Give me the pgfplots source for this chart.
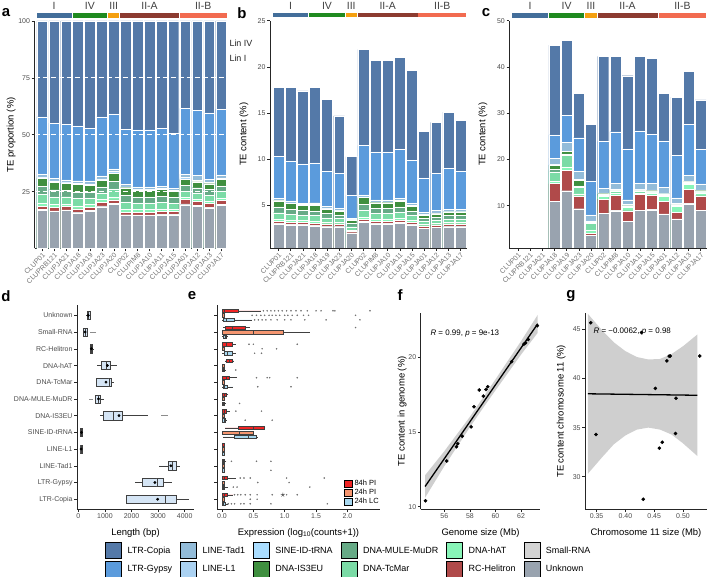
\documentclass[border=0pt]{standalone}
\usepackage{fontspec}
\setmainfont{Liberation Sans}
\usepackage{pgfplots}
\pgfplotsset{compat=1.18}
\usepackage{pgfplotstable}
\usepgfplotslibrary{statistics}

\definecolor{cCopia}{HTML}{5479A8}
\definecolor{cGypsy}{HTML}{5B9BDC}
\definecolor{cTad}{HTML}{93BCD9}
\definecolor{cLone}{HTML}{ABD2F2}
\definecolor{cSINE}{HTML}{AADDFF}
\definecolor{cIS}{HTML}{3F8F3F}
\definecolor{cMULE}{HTML}{66AA86}
\definecolor{cTc}{HTML}{7BDBA6}
\definecolor{chAT}{HTML}{88F5B8}
\definecolor{cHel}{HTML}{B04A4A}
\definecolor{cSR}{HTML}{D3D3D3}
\definecolor{cUnk}{HTML}{99A3AF}
\definecolor{gI}{HTML}{436E9A}
\definecolor{gIV}{HTML}{1F8A1F}
\definecolor{gIII}{HTML}{F5A00F}
\definecolor{gIIA}{HTML}{8C3B30}
\definecolor{gIIB}{HTML}{F26B50}
\definecolor{eR}{HTML}{F02424}
\definecolor{eS}{HTML}{F59670}
\definecolor{eB}{HTML}{A8D8F0}
\definecolor{dboxc}{HTML}{D5E5F5}

\pgfplotsset{
 gg/.style={scale only axis, anchor=south west, clip mode=individual,
  axis x line*=bottom, axis y line*=left,
  axis line style={draw=black!85, line width=0.7bp},
  tick style={draw=black!85, line width=0.5bp},
  tick align=outside, major tick length=2.8bp,
  tick label style={font=\fontsize{7}{8}\selectfont, text=black!70, inner sep=1.5bp},
  label style={font=\fontsize{9.5}{11}\selectfont},
  /pgf/number format/assume math mode=true,
  /pgf/number format/1000 sep={}},
 bs/.style={ybar, bar width=0.9, bar shift=0pt, draw=white, line width=0.35bp, forget plot},
 barax/.style={gg, xmin=-0.7, xmax=15.5, xtick={0,...,15},
  xticklabels={CLUP01,CLUPRB121,CLUPJA21,CLUPJA18,CLUPJA19,CLUPJA23,CLUPJA20,CLUP02,CLUPIM8,CLUPJA10,CLUPJA11,CLUPJA15,CLUPJA01,CLUPJA12,CLUPJA13,CLUPJA17},
  xticklabel style={rotate=45, anchor=north east, font=\fontsize{7}{7}\selectfont, text=black!55, inner sep=0.8bp},
  ylabel style={anchor=south}},
}

\newcommand{\stackbars}[1]{%
\addplot[bs, fill=cCopia] table[x=x,y=T]{#1};
\addplot[bs, fill=cGypsy] table[x=x,y=G]{#1};
\addplot[bs, fill=cTad] table[x=x,y=Td]{#1};
\addplot[bs, fill=cLone] table[x=x,y=L1]{#1};
\addplot[bs, fill=cSINE] table[x=x,y=SINE]{#1};
\addplot[bs, fill=cIS] table[x=x,y=IS]{#1};
\addplot[bs, fill=cMULE] table[x=x,y=MU]{#1};
\addplot[bs, fill=cTc] table[x=x,y=Tc]{#1};
\addplot[bs, fill=chAT] table[x=x,y=hAT]{#1};
\addplot[bs, fill=cHel] table[x=x,y=H]{#1};
\addplot[bs, fill=cSR] table[x=x,y=SR]{#1};
\addplot[bs, fill=cUnk] table[x=x,y=U]{#1};
}
\newcommand{\groupstrip}[3]{%
\fill[gI] (axis cs:-0.46,#1) rectangle (axis cs:2.46,#2);
\fill[gIV] (axis cs:2.54,#1) rectangle (axis cs:5.46,#2);
\fill[gIII] (axis cs:5.54,#1) rectangle (axis cs:6.46,#2);
\fill[gIIA] (axis cs:6.54,#1) rectangle (axis cs:11.46,#2);
\fill[gIIB] (axis cs:11.54,#1) rectangle (axis cs:15.46,#2);
\node[font=\fontsize{10.5}{11}\selectfont, text=black!75] at (axis cs:1,#3) {I};
\node[font=\fontsize{10.5}{11}\selectfont, text=black!75] at (axis cs:4,#3) {IV};
\node[font=\fontsize{10.5}{11}\selectfont, text=black!75] at (axis cs:6,#3) {III};
\node[font=\fontsize{10.5}{11}\selectfont, text=black!75] at (axis cs:9,#3) {II-A};
\node[font=\fontsize{10.5}{11}\selectfont, text=black!75] at (axis cs:13.5,#3) {II-B};
}
\newcommand{\dbx}[6]{\addplot[forget plot, boxplot prepared={draw position=#1, lower whisker=#2, lower quartile=#3, median=#4, upper quartile=#5, upper whisker=#6}, draw=black!75, fill=dboxc, line width=0.5bp] coordinates {};}
\newcommand{\ebx}[7]{\addplot[forget plot, boxplot prepared={draw position=#2, lower whisker=#3, lower quartile=#4, median=#5, upper quartile=#6, upper whisker=#7}, draw=black!75, fill=#1, line width=0.4bp] coordinates {};}

\begin{document}
\pgfplotstableread{
x T G Td L1 SINE IS MU Tc hAT H SR U
0 100 57.87 32.58 31.46 31.07 30.90 27.19 23.71 20.00 18.54 17.13 16.85
1 100 55.06 30.90 29.78 29.38 29.21 25.84 22.70 19.33 17.98 16.57 16.29
2 100 54.60 30.17 29.31 28.91 28.74 25.63 22.76 19.66 18.39 16.95 16.67
3 100 53.93 29.78 28.65 28.26 28.09 24.89 21.91 18.71 17.42 16.01 15.73
4 100 52.73 29.70 28.48 28.06 27.88 24.97 22.24 19.33 18.18 16.67 16.36
5 100 57.82 31.97 30.61 30.14 29.93 27.07 24.42 21.56 20.41 18.71 18.37
6 100 59.22 34.95 33.98 33.30 33.01 29.51 26.21 22.72 21.36 19.90 19.42
7 100 52.51 28.08 27.17 26.85 26.71 23.52 20.50 17.26 15.98 14.84 14.61
8 100 52.17 27.05 26.09 25.75 25.60 22.71 20.00 17.10 15.94 14.73 14.49
9 100 52.17 27.05 26.09 25.75 25.60 22.71 20.00 17.10 15.94 14.73 14.49
10 100 52.86 27.38 26.43 26.10 25.95 23.05 20.29 17.38 16.19 15.00 14.76
11 100 50.51 26.53 25.51 25.15 25.00 22.40 19.95 17.35 16.33 15.05 14.80
12 100 61.54 32.69 31.15 30.62 30.38 27.77 25.23 22.62 21.54 19.62 19.23
13 100 60.71 32.14 30.00 29.50 29.29 26.71 24.29 21.71 20.71 18.93 18.57
14 100 59.60 30.46 29.14 28.68 28.48 25.90 23.51 20.93 19.87 18.21 17.88
15 100 61.27 32.39 30.99 30.49 30.28 27.54 25.00 22.25 21.13 19.37 19.01
}\tA
\pgfplotstableread{
x T G Td L1 SINE IS MU Tc hAT H SR U
0 17.8 10.3 5.8 5.6 5.53 5.5 4.84 4.22 3.56 3.3 3.05 3.0
1 17.8 9.8 5.5 5.3 5.23 5.2 4.6 4.04 3.44 3.2 2.95 2.9
2 17.4 9.5 5.25 5.1 5.03 5.0 4.46 3.96 3.42 3.2 2.95 2.9
3 17.8 9.6 5.3 5.1 5.03 5.0 4.43 3.9 3.33 3.1 2.85 2.8
4 16.5 8.7 4.9 4.7 4.63 4.6 4.12 3.67 3.19 3.0 2.75 2.7
5 14.7 8.5 4.7 4.5 4.43 4.4 3.98 3.59 3.17 3.0 2.75 2.7
6 10.3 6.1 3.6 3.5 3.43 3.4 3.04 2.7 2.34 2.2 2.05 2.0
7 21.9 11.5 6.15 5.95 5.88 5.85 5.15 4.49 3.78 3.5 3.25 3.2
8 20.7 10.8 5.6 5.4 5.33 5.3 4.7 4.14 3.54 3.3 3.05 3.0
9 20.7 10.8 5.6 5.4 5.33 5.3 4.7 4.14 3.54 3.3 3.05 3.0
10 21.0 11.1 5.75 5.55 5.48 5.45 4.84 4.26 3.65 3.4 3.15 3.1
11 19.6 9.9 5.2 5.0 4.93 4.9 4.39 3.91 3.4 3.2 2.95 2.9
12 13.0 8.0 4.25 4.05 3.98 3.95 3.61 3.28 2.94 2.8 2.55 2.5
13 14.0 8.5 4.5 4.2 4.13 4.1 3.74 3.4 3.04 2.9 2.65 2.6
14 15.1 9.0 4.6 4.4 4.33 4.3 3.91 3.55 3.16 3.0 2.75 2.7
15 14.2 8.7 4.6 4.4 4.33 4.3 3.91 3.55 3.16 3.0 2.75 2.7
}\tB
\pgfplotstableread{
x T G Td L1 SINE IS MU Tc hAT H SR U
3 44.7 25.3 20.3 18.95 18.85 18.8 17.8 17.3 15.3 14.8 10.95 10.9
4 45.8 29.6 23.7 21.85 21.75 21.7 21.2 20.9 18.4 17.7 13.25 13.2
5 34.3 24.7 17.4 15.65 15.55 15.5 14.3 14.0 12.6 12.1 9.35 9.3
6 27.6 15.2 8.0 6.7 6.6 6.55 6.4 6.2 4.8 4.1 3.65 3.6
7 42.3 23.9 13.8 12.75 12.65 12.6 12.45 12.3 12.0 11.4 8.35 8.3
8 42.3 26.0 14.9 13.65 13.55 13.5 13.35 13.2 12.8 12.2 8.95 8.9
9 38.1 22.3 11.3 10.25 10.15 10.1 10.0 9.9 9.6 8.9 6.65 6.6
10 42.3 26.2 14.9 13.5 13.4 13.35 13.2 13.1 12.8 12.4 9.05 9.0
11 41.8 25.4 14.9 13.4 13.3 13.25 13.1 13.0 12.8 12.2 9.15 9.1
12 34.3 24.0 14.0 12.7 12.6 12.55 12.4 12.3 12.0 10.9 8.25 8.2
13 33.5 20.9 11.7 10.45 10.35 10.3 10.2 10.1 9.9 8.6 7.15 7.1
14 39.0 27.6 16.5 15.3 15.2 15.15 15.0 14.9 14.6 13.6 10.45 10.4
15 32.9 22.2 14.7 13.4 13.3 13.25 13.1 13.0 12.8 12.1 9.05 9.0
}\tC
\begin{tikzpicture}[x=1bp,y=1bp]
\useasboundingbox (0,0) rectangle (709,577);

% ---------- a ----------
\begin{axis}[barax, at={(34.5bp,328.5bp)}, width=192.5bp, height=227.5bp,
  xmin=-0.65, ymin=0, ymax=100, ytick={25,50,75,100},
  ylabel={TE proportion (\%)}, ylabel style={at={(axis description cs:-0.08,0.5)}}]
\stackbars{\tA}
\addplot[forget plot, white, dash pattern=on 5bp off 3bp, line width=0.9bp] coordinates {(-0.65,25) (15.5,25)};
\addplot[forget plot, white, dash pattern=on 5bp off 3bp, line width=0.9bp] coordinates {(-0.65,50) (15.5,50)};
\addplot[forget plot, white, dash pattern=on 5bp off 3bp, line width=0.9bp] coordinates {(-0.65,75) (15.5,75)};
\groupstrip{101.3}{103.4}{106.6}
\end{axis}

% ---------- b ----------
\begin{axis}[barax, at={(270bp,329bp)}, width=196.5bp, height=227.3bp,
  ymin=0.4, ymax=25, ytick={5,10,15,20,25},
  ylabel={TE content (\%)}, ylabel style={at={(axis description cs:-0.092,0.5)}}]
\stackbars{\tB}
\groupstrip{25.37}{25.86}{26.64}
\end{axis}

% ---------- c ----------
\begin{axis}[barax, at={(509.3bp,329bp)}, width=197.5bp, height=227.3bp,
  ymin=0.86, ymax=50, ytick={10,20,30,40,50},
  ylabel={TE content (\%)}, ylabel style={at={(axis description cs:-0.093,0.5)}}]
\stackbars{\tC}
\groupstrip{50.58}{51.73}{53.3}
\end{axis}

\node[anchor=west, font=\fontsize{9}{10}\selectfont, text=black!85] at (226,534) {Lin IV};
\node[anchor=west, font=\fontsize{9}{10}\selectfont, text=black!85] at (226,519) {Lin I};

% ---------- d ----------
\begin{axis}[gg, at={(77bp,67.7bp)}, width=117bp, height=204bp,
  xmin=-50, xmax=4350, ymin=0.4, ymax=12.6,
  xtick={0,1000,2000,3000,4000}, ytick={1,...,12},
  yticklabels={LTR-Copia,LTR-Gypsy,LINE-Tad1,LINE-L1,SINE-ID-tRNA,DNA-IS3EU,DNA-MULE-MuDR,DNA-TcMar,DNA-hAT,RC-Helitron,Small-RNA,Unknown},
  boxplot/draw direction=x, boxplot/box extend=0.5, boxplot/whisker extend=0,
  xlabel={Length (bp)}, xlabel style={at={(axis description cs:0.5,-0.077)}, anchor=north},
  legend columns=6, legend cell align=left,
  legend image code/.code={\fill[#1] (0bp,-8bp) rectangle (16bp,8bp); \path (22bp,0bp);},
  legend style={at={(0.239,-0.160)}, anchor=north west, draw=none, fill=none, inner sep=0pt,
    font=\fontsize{9}{10}\selectfont, row sep=2bp,
    nodes={inner sep=0pt, text depth=0pt},
    /tikz/every even column/.append style={column sep=8bp}}]
\dbx{12}{300}{330}{380}{440}{460}
\dbx{11}{170}{200}{260}{320}{340}
\dbx{10}{430}{440}{490}{540}{550}
\dbx{9}{700}{870}{1050}{1200}{1450}
\dbx{8}{680}{680}{1150}{1240}{1350}
\dbx{7}{610}{650}{750}{840}{950}
\dbx{6}{800}{920}{1300}{1640}{2620}
\dbx{5}{70}{80}{115}{150}{160}
\dbx{4}{60}{70}{100}{140}{150}
\dbx{3}{3050}{3380}{3520}{3680}{3820}
\dbx{2}{2120}{2400}{2950}{3180}{3520}
\dbx{1}{1820}{1820}{3280}{3680}{4180}
\addplot[forget plot, only marks, mark=*, mark size=1.2bp, black] coordinates {(375,12) (255,11) (490,10) (1090,9) (1040,8) (760,7) (1530,6) (120,5) (105,4) (3480,3) (2880,2) (2980,1)};
\addplot[forget plot, only marks, mark=-, mark size=2bp, black!45] coordinates {(500,11) (590,11) (470,7) (3200,6) (3280,6)};
\addlegendimage{fill=cCopia}\addlegendentry{LTR-Copia}
\addlegendimage{fill=cTad}\addlegendentry{LINE-Tad1}
\addlegendimage{fill=cSINE}\addlegendentry{SINE-ID-tRNA}
\addlegendimage{fill=cMULE}\addlegendentry{DNA-MULE-MuDR}
\addlegendimage{fill=chAT}\addlegendentry{DNA-hAT}
\addlegendimage{fill=cSR}\addlegendentry{Small-RNA}
\addlegendimage{fill=cGypsy}\addlegendentry{LTR-Gypsy}
\addlegendimage{fill=cLone}\addlegendentry{LINE-L1}
\addlegendimage{fill=cIS}\addlegendentry{DNA-IS3EU}
\addlegendimage{fill=cTc}\addlegendentry{DNA-TcMar}
\addlegendimage{fill=cHel}\addlegendentry{RC-Helitron}
\addlegendimage{fill=cUnk}\addlegendentry{Unknown}
\end{axis}

% ---------- e ----------
\begin{axis}[gg, at={(217bp,67.7bp)}, width=163bp, height=204bp,
  xmin=-0.08, xmax=2.52, ymin=0.4, ymax=12.6,
  xtick={0,0.5,1,1.5,2}, ytick={1,...,12}, yticklabels={},
  xticklabel style={/pgf/number format/.cd, fixed, fixed zerofill, precision=1},
  boxplot/draw direction=x, boxplot/box extend=0.2, boxplot/whisker extend=0,
  xlabel={Expression (log\textsubscript{10}(counts+1))}, xlabel style={at={(axis description cs:0.5,-0.077)}, anchor=north},
  legend cell align=left,
  legend image code/.code={\fill[#1] (0bp,-3.5bp) rectangle (7.5bp,3.5bp); \path (10bp,0bp);},
  legend style={at={(0.779,0.146)}, anchor=north west, draw=none, fill=none, inner sep=0pt,
    font=\fontsize{7.5}{8}\selectfont, row sep=1.5bp, nodes={inner sep=0pt}}]
\ebx{eR}{12.27}{0}{0}{0.04}{0.26}{0.62}
\ebx{eS}{12}{0}{0}{0.01}{0.03}{0.04}
\ebx{eB}{11.73}{0}{0.02}{0.06}{0.2}{0.48}
\ebx{eR}{11.27}{0.02}{0.05}{0.17}{0.37}{0.44}
\ebx{eS}{11}{0}{0}{0.5}{0.97}{1.4}
\ebx{eB}{10.73}{0}{0.02}{0.05}{0.07}{0.1}
\ebx{eR}{10.27}{0}{0}{0.06}{0.17}{0.22}
\ebx{eS}{10}{0}{0}{0.01}{0.03}{0.04}
\ebx{eB}{9.73}{0}{0.04}{0.08}{0.17}{0.22}
\ebx{eR}{9.27}{0.05}{0.06}{0.12}{0.17}{0.19}
\ebx{eS}{9}{0}{0}{0.01}{0.03}{0.04}
\ebx{eB}{8.73}{0}{0.01}{0.02}{0.04}{0.06}
\ebx{eR}{8.27}{0}{0.01}{0.07}{0.12}{0.24}
\ebx{eS}{8}{0}{0}{0.01}{0.03}{0.04}
\ebx{eB}{7.73}{0}{0.02}{0.04}{0.08}{0.18}
\ebx{eR}{7.27}{0}{0}{0.03}{0.06}{0.1}
\ebx{eS}{7}{0}{0}{0.01}{0.03}{0.04}
\ebx{eB}{6.73}{0}{0.01}{0.02}{0.04}{0.07}
\ebx{eR}{6.27}{0}{0}{0.03}{0.06}{0.12}
\ebx{eS}{6}{0}{0}{0.01}{0.03}{0.04}
\ebx{eB}{5.73}{0}{0.01}{0.03}{0.05}{0.08}
\ebx{eR}{5.27}{0.05}{0.26}{0.5}{0.67}{0.69}
\ebx{eS}{5}{0}{0}{0.27}{0.5}{0.5}
\ebx{eB}{4.73}{0.01}{0.2}{0.42}{0.55}{0.56}
\ebx{eR}{4.27}{0}{0}{0.01}{0.03}{0.04}
\ebx{eS}{4}{0}{0}{0.01}{0.03}{0.04}
\ebx{eB}{3.73}{0}{0}{0.01}{0.03}{0.04}
\ebx{eR}{3.27}{0}{0}{0.02}{0.04}{0.07}
\ebx{eS}{3}{0}{0}{0.01}{0.03}{0.04}
\ebx{eB}{2.73}{0}{0}{0.01}{0.03}{0.04}
\ebx{eR}{2.27}{0}{0.01}{0.04}{0.08}{0.22}
\ebx{eS}{2}{0}{0}{0.01}{0.03}{0.04}
\ebx{eB}{1.73}{0}{0.01}{0.02}{0.04}{0.1}
\ebx{eR}{1.27}{0}{0.01}{0.04}{0.09}{0.18}
\ebx{eS}{1}{0}{0}{0.01}{0.03}{0.04}
\ebx{eB}{0.73}{0}{0.01}{0.02}{0.05}{0.1}
\addplot[forget plot, only marks, mark=*, mark size=0.55bp, black!55] coordinates {
(0.66,12.27)(0.72,12.27)(0.78,12.27)(0.84,12.27)(0.9,12.27)(0.96,12.27)(1.03,12.27)(1.1,12.27)(1.18,12.27)(1.26,12.27)(1.36,12.27)(1.5,12.27)(1.58,12.27)(1.77,12.27)(1.8,12.27)(2.36,12.27)
(0.48,12)(0.55,12)(0.62,12)(0.68,12)(0.75,12)(0.8,12)(0.86,12)(0.92,12)(1.0,12)(1.05,12)(1.12,12)(1.2,12)(1.3,12)(1.38,12)(2.13,12)
(0.52,11.73)(0.58,11.73)(0.64,11.73)(0.7,11.73)(0.78,11.73)(0.88,11.73)(1.0,11.73)(1.1,11.73)(1.32,11.73)(1.66,11.73)(2.2,11.73)
(2.13,11.27)
(0.43,10.27)(0.5,10.27)(1.2,10.27)(0.64,10)(0.87,10)(0.52,9.73)(0.63,9.73)
(0.22,8.73)
(0.55,8.27)(0.72,8.27)(0.76,8.27)(1.2,8.27)(0.57,7.73)(1.1,7.73)
(0.28,6.73)
(0.22,6.27)(0.63,6.27)(0.37,5.73)(0.8,5.73)
(0.15,3.27)(0.55,3.27)(0.78,3.27)(0.78,2.73)
(0.29,2.27)(0.35,2.27)(0.45,2.27)(1.03,2.27)(1.63,2.27)(0.57,2)(1.07,2)(0.18,1.73)(0.24,1.73)(1.4,1.73)
(0.2,1.27)(0.25,1.27)(0.3,1.27)(0.37,1.27)(0.45,1.27)(0.56,1.27)(0.8,1.27)(1.03,1.27)(1.2,1.27)(0.45,1)(0.56,1)
(0.1,0.73)(0.15,0.73)(0.2,0.73)(0.3,0.73)(0.35,0.73)(0.45,0.73)(0.78,0.73)(1.68,0.73)};
\addplot[forget plot, only marks, mark=star, mark size=2.2bp, black!80] coordinates {(0.97,1.27)};
\addlegendimage{fill=eR}\addlegendentry{84h PI}
\addlegendimage{fill=eS}\addlegendentry{24h PI}
\addlegendimage{fill=eB}\addlegendentry{24h LC}
\end{axis}

% ---------- f ----------
\begin{axis}[gg, at={(420.7bp,67.7bp)}, width=119.6bp, height=196bp,
  xmin=54.16, xmax=63.5, ymin=9.83, ymax=22.9,
  xtick={56,58,60,62}, ytick={10,15,20},
  xlabel={Genome size (Mb)}, xlabel style={at={(axis description cs:0.5,-0.08)}, anchor=north},
  ylabel={TE content in genome (\%)}, ylabel style={at={(axis description cs:-0.089,0.5)}, anchor=south}]
\addplot[fill=black!22, draw=none, opacity=0.85] coordinates {(54.5,12.1) (56,13.7) (58,16.0) (59,17.25) (60,18.5) (62,21.05) (63.3,22.8) (63.3,21.6) (62,20.15) (60,17.76) (59,16.55) (58,15.3) (56,12.7) (54.5,10.6)};
\addplot[black, line width=1.3bp] coordinates {(54.5,11.35) (63.3,22.2)};
\addplot[only marks, mark=*, mark size=1.6bp, black] coordinates {(54.54,10.4) (56.2,13.05) (56.95,14.0) (57.05,14.2) (57.4,14.7) (58.1,15.33) (58.32,16.67) (58.73,17.78) (59.05,17.38) (59.26,17.82) (59.39,18.0) (61.26,19.67) (62.22,20.84) (62.35,20.93) (62.56,21.15) (63.27,22.07)};
\node[anchor=west, font=\fontsize{8}{9}\selectfont] at (axis cs:54.65,21.58) {\textit{R} = 0.99, \textit{p} = 9e-13};
\end{axis}

% ---------- g ----------
\begin{axis}[gg, at={(585bp,67.7bp)}, width=122bp, height=196bp,
  xmin=0.33, xmax=0.5417, ymin=26.67, ymax=46.66,
  xtick={0.35,0.40,0.45,0.50}, ytick={30,35,40,45},
  xticklabel style={/pgf/number format/.cd, fixed, fixed zerofill, precision=2},
  xlabel={Chromosome 11 size (Mb)}, xlabel style={at={(axis description cs:0.5,-0.08)}, anchor=north},
  ylabel={TE content chromosome 11 (\%)}, ylabel style={at={(axis description cs:-0.131,0.5)}, anchor=south}]
\addplot[fill=black!22, draw=none, opacity=0.85] coordinates {(0.335,46.6) (0.36,44.9) (0.38,43.7) (0.40,42.8) (0.42,42.2) (0.44,41.95) (0.46,42.0) (0.48,42.5) (0.50,43.3) (0.525,44.5) (0.525,32.1) (0.50,33.4) (0.48,34.3) (0.46,34.8) (0.44,35.0) (0.42,34.8) (0.40,34.2) (0.38,33.3) (0.36,32.0) (0.335,30.3)};
\addplot[black, line width=1.3bp] coordinates {(0.335,38.45) (0.525,38.3)};
\addplot[only marks, mark=*, mark size=1.6bp, black] coordinates {(0.340,45.7) (0.349,34.3) (0.428,44.7) (0.431,27.7) (0.452,39.0) (0.459,32.9) (0.464,33.5) (0.472,41.8) (0.476,42.3) (0.478,42.3) (0.488,38.0) (0.487,34.4) (0.529,42.3)};
\node[anchor=west, font=\fontsize{8}{9}\selectfont] at (axis cs:0.3387,44.83) {\textit{R} = −0.0062, \textit{p} = 0.98};
\end{axis}

% panel letters
\node[font=\fontsize{15}{15}\selectfont\bfseries] at (6,564) {a};
\node[font=\fontsize{15}{15}\selectfont\bfseries] at (242,564) {b};
\node[font=\fontsize{15}{15}\selectfont\bfseries] at (486,564) {c};
\node[font=\fontsize{15}{15}\selectfont\bfseries] at (6,281) {d};
\node[font=\fontsize{15}{15}\selectfont\bfseries] at (192,281) {e};
\node[font=\fontsize{15}{15}\selectfont\bfseries] at (400,282) {f};
\node[font=\fontsize{15}{15}\selectfont\bfseries] at (571,281) {g};
\end{tikzpicture}
\end{document}
